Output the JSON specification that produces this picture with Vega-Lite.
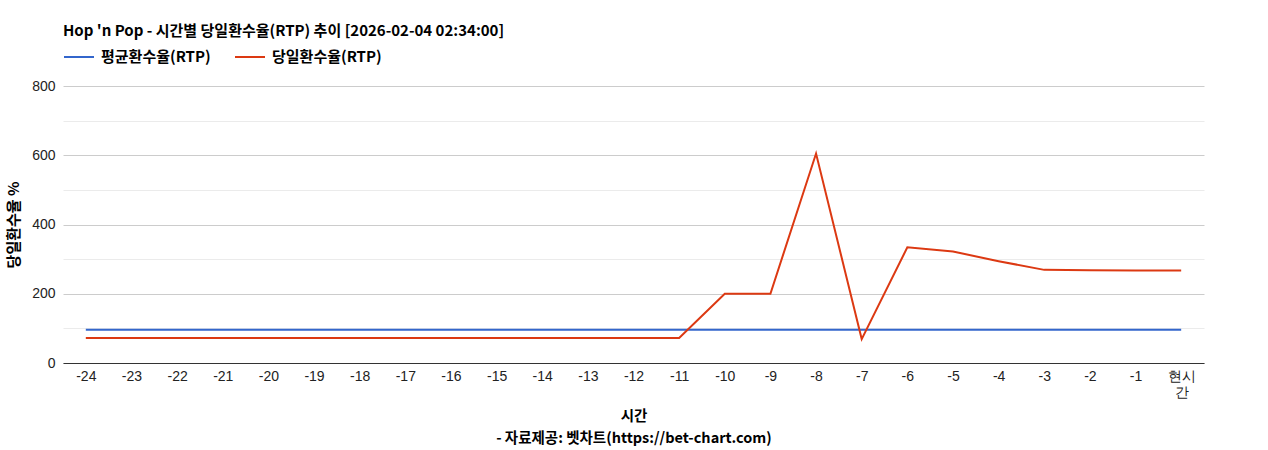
{
  "$schema": "https://vega.github.io/schema/vega-lite/v6.json",
  "autosize": {"type": "none"},
  "width": 1141,
  "height": 277,
  "padding": {"left": 63, "top": 86, "right": 64, "bottom": 87},
  "background": "white",
  "config": {"view": {"stroke": null}, "font": "Liberation Sans"},
  "title": {
    "text": "Hop 'n Pop - 시간별 당일환수율(RTP) 추이 [2026-02-04 02:34:00]",
    "anchor": "start",
    "frame": "group",
    "font": "Noto Sans CJK KR",
    "fontSize": 15,
    "fontWeight": "bold",
    "color": "#000",
    "offset": 2
  },
  "data": {
    "values": [
      {"t": "-24", "series": "평균환수율(RTP)", "rtp": 96}, {"t": "-23", "series": "평균환수율(RTP)", "rtp": 96},
      {"t": "-22", "series": "평균환수율(RTP)", "rtp": 96}, {"t": "-21", "series": "평균환수율(RTP)", "rtp": 96},
      {"t": "-20", "series": "평균환수율(RTP)", "rtp": 96}, {"t": "-19", "series": "평균환수율(RTP)", "rtp": 96},
      {"t": "-18", "series": "평균환수율(RTP)", "rtp": 96}, {"t": "-17", "series": "평균환수율(RTP)", "rtp": 96},
      {"t": "-16", "series": "평균환수율(RTP)", "rtp": 96}, {"t": "-15", "series": "평균환수율(RTP)", "rtp": 96},
      {"t": "-14", "series": "평균환수율(RTP)", "rtp": 96}, {"t": "-13", "series": "평균환수율(RTP)", "rtp": 96},
      {"t": "-12", "series": "평균환수율(RTP)", "rtp": 96}, {"t": "-11", "series": "평균환수율(RTP)", "rtp": 96},
      {"t": "-10", "series": "평균환수율(RTP)", "rtp": 96}, {"t": "-9", "series": "평균환수율(RTP)", "rtp": 96},
      {"t": "-8", "series": "평균환수율(RTP)", "rtp": 96}, {"t": "-7", "series": "평균환수율(RTP)", "rtp": 96},
      {"t": "-6", "series": "평균환수율(RTP)", "rtp": 96}, {"t": "-5", "series": "평균환수율(RTP)", "rtp": 96},
      {"t": "-4", "series": "평균환수율(RTP)", "rtp": 96}, {"t": "-3", "series": "평균환수율(RTP)", "rtp": 96},
      {"t": "-2", "series": "평균환수율(RTP)", "rtp": 96}, {"t": "-1", "series": "평균환수율(RTP)", "rtp": 96},
      {"t": "현시간", "series": "평균환수율(RTP)", "rtp": 96},
      {"t": "-24", "series": "당일환수율(RTP)", "rtp": 72}, {"t": "-23", "series": "당일환수율(RTP)", "rtp": 72},
      {"t": "-22", "series": "당일환수율(RTP)", "rtp": 72}, {"t": "-21", "series": "당일환수율(RTP)", "rtp": 72},
      {"t": "-20", "series": "당일환수율(RTP)", "rtp": 72}, {"t": "-19", "series": "당일환수율(RTP)", "rtp": 72},
      {"t": "-18", "series": "당일환수율(RTP)", "rtp": 72}, {"t": "-17", "series": "당일환수율(RTP)", "rtp": 72},
      {"t": "-16", "series": "당일환수율(RTP)", "rtp": 72}, {"t": "-15", "series": "당일환수율(RTP)", "rtp": 72},
      {"t": "-14", "series": "당일환수율(RTP)", "rtp": 72}, {"t": "-13", "series": "당일환수율(RTP)", "rtp": 72},
      {"t": "-12", "series": "당일환수율(RTP)", "rtp": 72}, {"t": "-11", "series": "당일환수율(RTP)", "rtp": 72},
      {"t": "-10", "series": "당일환수율(RTP)", "rtp": 200}, {"t": "-9", "series": "당일환수율(RTP)", "rtp": 200},
      {"t": "-8", "series": "당일환수율(RTP)", "rtp": 605}, {"t": "-7", "series": "당일환수율(RTP)", "rtp": 69},
      {"t": "-6", "series": "당일환수율(RTP)", "rtp": 334}, {"t": "-5", "series": "당일환수율(RTP)", "rtp": 322},
      {"t": "-4", "series": "당일환수율(RTP)", "rtp": 294}, {"t": "-3", "series": "당일환수율(RTP)", "rtp": 269},
      {"t": "-2", "series": "당일환수율(RTP)", "rtp": 268}, {"t": "-1", "series": "당일환수율(RTP)", "rtp": 267},
      {"t": "현시간", "series": "당일환수율(RTP)", "rtp": 267}
    ]
  },
  "mark": {"type": "line", "strokeWidth": 2},
  "encoding": {
    "x": {
      "field": "t",
      "type": "ordinal",
      "sort": null,
      "scale": {"type": "point", "padding": 0.5},
      "axis": {
        "labelAngle": 0,
        "labelFont": "Liberation Sans",
        "labelFontSize": 14,
        "labelColor": "#222",
        "labelPadding": 6,
        "labelExpr": "datum.label == '현시간' ? ['현시', '간'] : datum.label",
        "ticks": false,
        "domainColor": "#333",
        "domainWidth": 1,
        "grid": false,
        "title": ["시간", "- 자료제공: 벳차트(https://bet-chart.com)"],
        "titleFont": "Noto Sans CJK KR",
        "titleFontSize": 14.5,
        "titleFontWeight": "bold",
        "titleColor": "#000",
        "titlePadding": 10,
        "titleLineHeight": 22
      }
    },
    "y": {
      "field": "rtp",
      "type": "quantitative",
      "scale": {"domain": [0, 800], "nice": false},
      "axis": {
        "values": [0, 100, 200, 300, 400, 500, 600, 700, 800],
        "labelExpr": "datum.value % 200 == 0 ? datum.label : ''",
        "labelFont": "Liberation Sans",
        "labelFontSize": 14,
        "labelColor": "#222",
        "labelPadding": 8,
        "ticks": false,
        "domain": false,
        "gridColor": {"condition": {"test": "datum.value % 200 == 0", "value": "#cccccc"}, "value": "#ebebeb"},
        "title": "당일환수율 %",
        "titleFont": "Noto Sans CJK KR",
        "titleFontSize": 15,
        "titleFontWeight": "bold",
        "titleColor": "#000",
        "titlePadding": 10
      }
    },
    "color": {
      "field": "series",
      "type": "nominal",
      "scale": {"domain": ["평균환수율(RTP)", "당일환수율(RTP)"], "range": ["#3366cc", "#dc3912"]},
      "legend": {
        "orient": "none",
        "legendX": 0,
        "legendY": -45,
        "direction": "horizontal",
        "title": null,
        "symbolType": "stroke",
        "symbolStrokeWidth": 2,
        "symbolSize": 900,
        "labelFont": "Noto Sans CJK KR",
        "labelFontSize": 15,
        "labelFontWeight": "bold",
        "labelColor": "#000",
        "labelOffset": 6,
        "columnPadding": 20
      }
    }
  }
}
